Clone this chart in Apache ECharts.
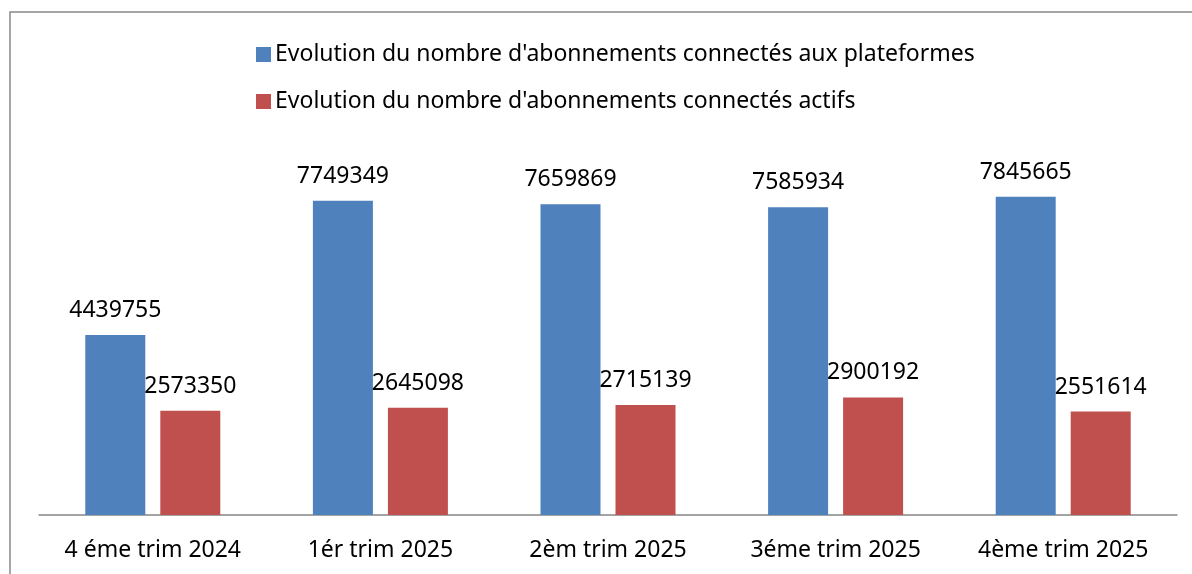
<!DOCTYPE html>
<html>
<head>
<meta charset="utf-8">
<script src="https://cdn.jsdelivr.net/npm/echarts@6/dist/echarts.min.js"></script>
<style>
  html, body { margin: 0; padding: 0; background: #fff; }
  #chart { width: 1192px; height: 574px; }
</style>
</head>
<body>
<div id="chart"></div>
<script>
// categories and values
const categories = ['4 éme trim 2024', '1ér trim 2025', '2èm trim 2025', '3éme trim 2025', '4ème trim 2025']
const platformSubs = [4439755, 7749349, 7659869, 7585934, 7845665]
const activeSubs = [2573350, 2645098, 2715139, 2900192, 2551614]
const seriesNames = [
  "Evolution du nombre d'abonnements connectés aux plateformes",
  "Evolution du nombre d'abonnements connectés actifs"
]

const font = 'Noto Sans'
const labelStyle = {
  show: true,
  position: 'top',
  distance: 13,
  color: '#000',
  fontFamily: font,
  fontSize: 23
}

const chart = echarts.init(document.getElementById('chart'))
const option = {
  animation: false,
  textStyle: { fontFamily: font },
  graphic: [
    {
      type: 'rect',
      shape: { x: 10, y: 12, width: 1200, height: 600 },
      style: { fill: 'none', stroke: '#888', lineWidth: 1.5 },
      silent: true
    }
  ],
  legend: {
    orient: 'vertical',
    left: 251,
    top: 38,
    itemWidth: 15,
    itemHeight: 15,
    itemGap: 24,
    icon: 'rect',
    textStyle: { fontFamily: font, fontSize: 23, color: '#000', padding: [0, 0, 0, -1] },
    data: seriesNames
  },
  grid: { left: 39, right: 15, top: 150, bottom: 59 },
  xAxis: {
    type: 'category',
    data: categories,
    axisTick: { show: false },
    axisLine: { lineStyle: { color: '#868686', width: 1.5 } },
    axisLabel: { color: '#000', fontFamily: font, fontSize: 23, margin: 24, interval: 0, hideOverlap: false }
  },
  yAxis: {
    type: 'value',
    min: 0,
    max: 9000000,
    show: false,
    splitLine: { show: false }
  },
  series: [
    {
      name: seriesNames[0],
      type: 'bar',
      data: platformSubs,
      barWidth: 60,
      barGap: '25%',
      itemStyle: { color: '#4F81BD' },
      label: labelStyle
    },
    {
      name: seriesNames[1],
      type: 'bar',
      data: activeSubs,
      barWidth: 60,
      itemStyle: { color: '#C0504D' },
      label: labelStyle
    }
  ]
}
chart.setOption(option)
</script>
</body>
</html>
